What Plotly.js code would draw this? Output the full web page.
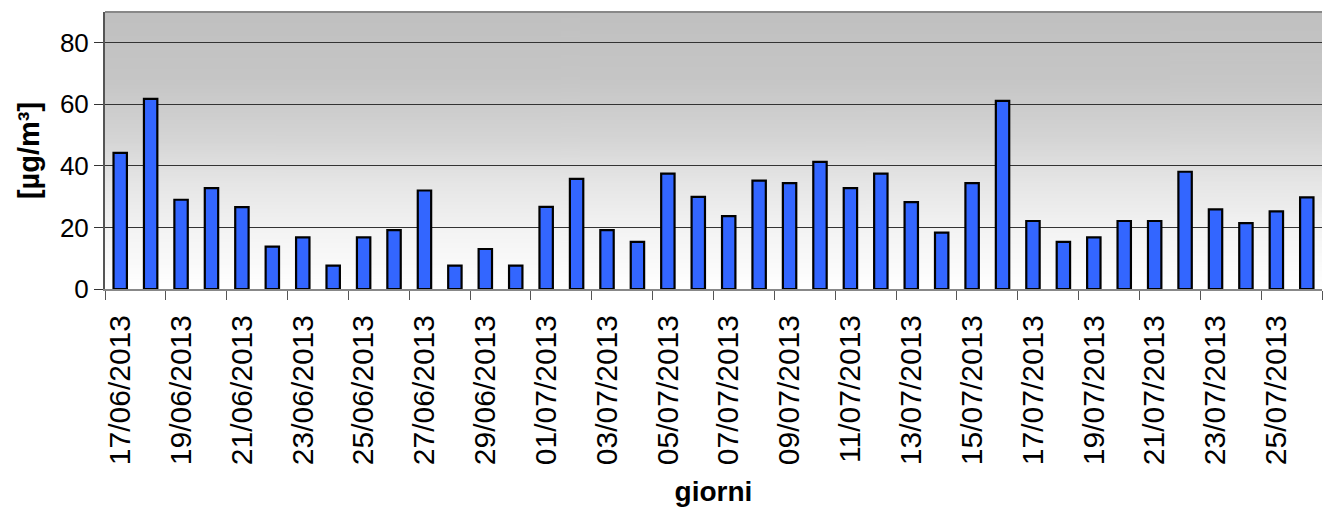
<!DOCTYPE html>
<html>
<head>
<meta charset="utf-8">
<script src="https://cdn.plot.ly/plotly-3.0.1.min.js"></script>
<style>html,body{margin:0;padding:0;background:#fff;}#chart{width:1324px;height:509px;}</style>
</head>
<body>
<div id="chart"></div>
<script>
const days = [
  "17/06/2013","18/06/2013","19/06/2013","20/06/2013","21/06/2013","22/06/2013","23/06/2013",
  "24/06/2013","25/06/2013","26/06/2013","27/06/2013","28/06/2013","29/06/2013","30/06/2013",
  "01/07/2013","02/07/2013","03/07/2013","04/07/2013","05/07/2013","06/07/2013","07/07/2013",
  "08/07/2013","09/07/2013","10/07/2013","11/07/2013","12/07/2013","13/07/2013","14/07/2013",
  "15/07/2013","16/07/2013","17/07/2013","18/07/2013","19/07/2013","20/07/2013","21/07/2013",
  "22/07/2013","23/07/2013","24/07/2013","25/07/2013","26/07/2013"
];
const values = [
  44.2, 61.8, 29.0, 32.8, 26.6, 13.8, 16.8,
  7.6, 16.8, 19.1, 32.0, 7.6, 13.0, 7.6,
  26.7, 35.8, 19.1, 15.3, 37.5, 29.9, 23.7,
  35.2, 34.4, 41.3, 32.8, 37.5, 28.2, 18.3,
  34.4, 61.1, 22.1, 15.3, 16.8, 22.1, 22.1,
  38.1, 25.9, 21.4, 25.2, 29.8
];
const yTicks = [0, 20, 40, 60, 80];

// vertical grey-to-white gradient for the plot background
function gradientURL() {
  const c = document.createElement('canvas');
  c.width = 4; c.height = 300;
  const g = c.getContext('2d');
  const gr = g.createLinearGradient(0, 0, 0, 300);
  gr.addColorStop(0, '#c0c0c0');
  gr.addColorStop(0.25, '#c6c6c6');
  gr.addColorStop(0.45, '#d4d4d4');
  gr.addColorStop(0.62, '#e6e6e6');
  gr.addColorStop(0.8, '#f4f4f4');
  gr.addColorStop(1, '#ffffff');
  g.fillStyle = gr; g.fillRect(0, 0, 4, 300);
  return c.toDataURL();
}

const font = "Liberation Sans, Arial, sans-serif";
const trace = {
  type: 'bar',
  x: days,
  y: values,
  marker: {color: '#3366ff', line: {color: '#000000', width: 2.2}},
  hoverinfo: 'x+y'
};
const layout = {
  width: 1324, height: 509,
  margin: {l: 105, r: 2, t: 12, b: 220},
  paper_bgcolor: '#ffffff',
  plot_bgcolor: 'rgba(0,0,0,0)',
  bargap: 0.56,
  showlegend: false,
  font: {family: font, color: '#000'},
  images: [{
    source: gradientURL(), xref: 'paper', yref: 'paper',
    x: 0, y: 1, sizex: 1, sizey: 1, sizing: 'stretch', layer: 'below'
  }],
  xaxis: {
    type: 'category',
    tickmode: 'linear', tick0: 0, dtick: 2,
    tickson: 'boundaries',
    ticks: 'outside', ticklen: 9, tickcolor: '#555', tickwidth: 1,
    tickangle: -90,
    ticklabelstandoff: 12,
    tickfont: {family: font, size: 30, color: '#000'},
    showgrid: false,
    showline: true, linecolor: '#888', linewidth: 2,
    title: {text: '<b>giorni</b>', font: {family: font, size: 28, color: '#000'}, standoff: 17}
  },
  yaxis: {
    range: [0, 90],
    tickvals: yTicks,
    ticks: 'outside', ticklen: 9, tickcolor: '#333',
    tickfont: {family: font, size: 26, color: '#000'},
    showgrid: true, gridcolor: '#333', gridwidth: 1,
    zeroline: false,
    showline: true, linecolor: '#555', linewidth: 2,
    mirror: false,
    title: {text: '<b>[µg/m³]</b>', font: {family: font, size: 29, color: '#000'}, standoff: 12}
  },
  shapes: [{
    type: 'line', xref: 'paper', yref: 'paper', x0: 0, x1: 1, y0: 1, y1: 1,
    line: {color: '#888', width: 2}
  }]
};
Plotly.newPlot('chart', [trace], layout, {displayModeBar: false, staticPlot: true});
</script>
</body>
</html>
